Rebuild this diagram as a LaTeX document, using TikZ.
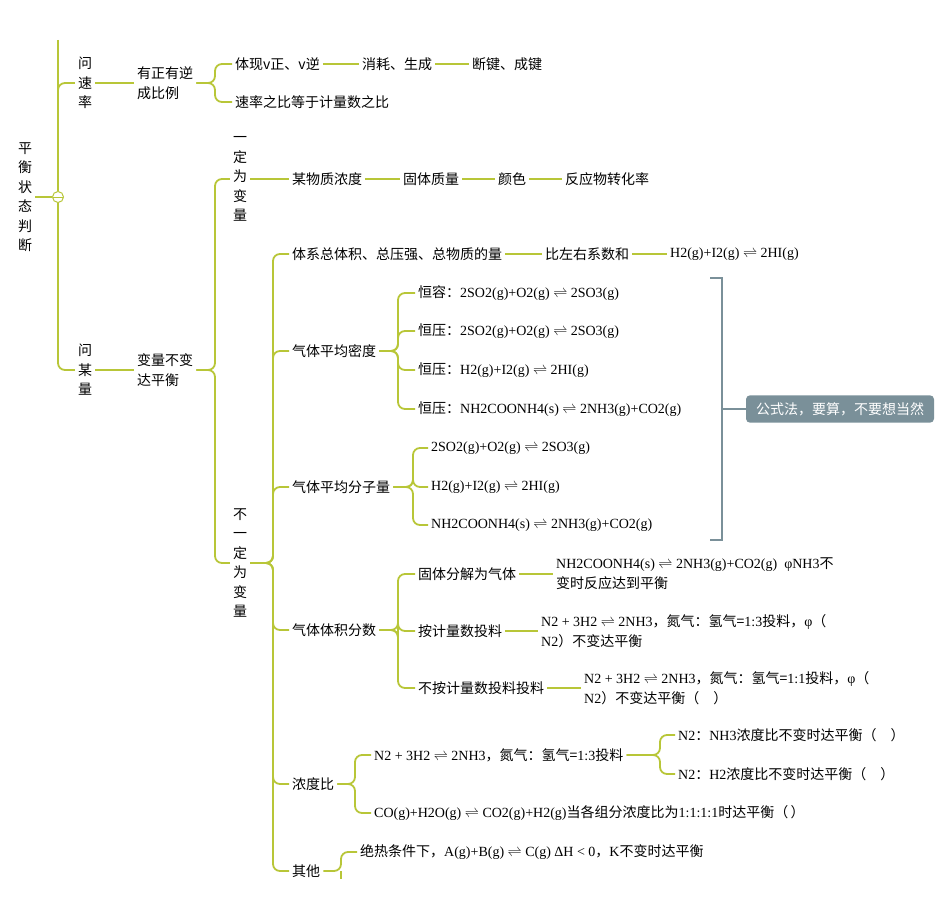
\documentclass[tikz,border=0pt]{standalone}
\usepackage{fontspec}
\setmainfont{Noto Sans CJK SC}
\newfontfamily\fm{Liberation Serif}
\usetikzlibrary{positioning, calc}
\definecolor{branch}{RGB}{184,198,56}
\definecolor{notebg}{RGB}{122,144,153}
\newcommand{\eqarrow}{$\rightleftharpoons$}
\tikzset{
	topic/.style={anchor=west, inner sep=3pt, font=\fontsize{14}{20}\selectfont, align=left},
	vtopic/.style={inner sep=3pt, font=\fontsize{14}{19.5}\selectfont, align=center},
	conn/.style={draw=branch, line width=1.8pt, rounded corners=7pt},
	notebox/.style={fill=notebg, text=white, rounded corners=4pt, inner xsep=10pt, inner ysep=7pt, font=\fontsize{14}{18}\selectfont}
}
\begin{document}
\begin{tikzpicture}[x=1pt, y=-1pt]
	\useasboundingbox (0,0) rectangle (950,920);
	% root and trunk
	\node[vtopic] (root) at (25,197) {平\\衡\\状\\态\\判\\断};
	\node[circle, draw=branch, line width=1pt, fill=white, minimum size=11pt, inner sep=0pt] (knob) at (58,197) {};
	\draw[branch, line width=0.8pt] (53,197) -- (63,197);
	\node[vtopic] (rate) at (85,83) {问\\速\\率};
	\node[vtopic] (amount) at (85,370) {问\\某\\量};
	\draw[conn] (root.east) -- (knob.west);
	\draw[conn] (58,40) -- (knob.north);
	\draw[conn] (knob.north) |- (rate.west);
	\draw[conn] (knob.south) |- (amount.west);

	% rate branch
	\node[topic] (both) at (134,83) {有正有逆\\成比例};
	\node[topic] (vpos) at (232,64) {体现v正、v逆};
	\node[topic] (ratio) at (232,102) {速率之比等于计量数之比};
	\node[topic] (consume) at (359,64) {消耗、生成};
	\node[topic] (bond) at (469,64) {断键、成键};
	\draw[conn] (rate.east) -- (both.west);
	\draw[conn] (both.east) -- (215,83) |- (vpos.west);
	\draw[conn] (both.east) -- (215,83) |- (ratio.west);
	\draw[conn] (vpos.east) -- (consume.west);
	\draw[conn] (consume.east) -- (bond.west);

	% amount branch
	\node[topic] (keep) at (134,370) {变量不变\\达平衡};
	\node[vtopic] (sure) at (240,179) {一\\定\\为\\变\\量};
	\node[vtopic] (unsure) at (240,563) {不\\一\\定\\为\\变\\量};
	\draw[conn] (amount.east) -- (keep.west);
	\draw[conn] (keep.east) -- (215,370) |- (sure.west);
	\draw[conn] (keep.east) -- (215,370) |- (unsure.west);

	% certain variables
	\node[topic] (conc) at (289,179) {某物质浓度};
	\node[topic] (solid) at (400,179) {固体质量};
	\node[topic] (color) at (495,179) {颜色};
	\node[topic] (conv) at (562,179) {反应物转化率};
	\draw[conn] (sure.east) -- (conc.west);
	\draw[conn] (conc.east) -- (solid.west);
	\draw[conn] (solid.east) -- (color.west);
	\draw[conn] (color.east) -- (conv.west);

	% uncertain variables
	\node[topic] (total) at (289,254) {体系总体积、总压强、总物质的量};
	\node[topic] (coef) at (542,254) {比左右系数和};
	\node[topic] (hi) at (667,254) {\fm H2(g)+I2(g) \eqarrow{} 2HI(g)};
	\node[topic] (dens) at (289,351) {气体平均密度};
	\node[topic] (molar) at (289,487) {气体平均分子量};
	\node[topic] (frac) at (289,630) {气体体积分数};
	\node[topic] (cratio) at (289,784) {浓度比};
	\node[topic] (other) at (289,871) {其他};
	\foreach \n in {total, dens, molar, frac, cratio, other}
		\draw[conn] (unsure.east) -- (273,563) |- (\n.west);
	\draw[conn] (total.east) -- (coef.west);
	\draw[conn] (coef.east) -- (hi.west);

	% density
	\node[topic] (d1) at (415,293) {恒容：{\fm 2SO2(g)+O2(g) \eqarrow{} 2SO3(g)}};
	\node[topic] (d2) at (415,331) {恒压：{\fm 2SO2(g)+O2(g) \eqarrow{} 2SO3(g)}};
	\node[topic] (d3) at (415,370) {恒压：{\fm H2(g)+I2(g) \eqarrow{} 2HI(g)}};
	\node[topic] (d4) at (415,409) {恒压：{\fm NH2COONH4(s) \eqarrow{} 2NH3(g)+CO2(g)}};
	\foreach \n in {d1, d2, d3, d4}
		\draw[conn] (dens.east) -- (398,351) |- (\n.west);

	% molar mass
	\node[topic] (m1) at (428,448) {\fm 2SO2(g)+O2(g) \eqarrow{} 2SO3(g)};
	\node[topic] (m2) at (428,487) {\fm H2(g)+I2(g) \eqarrow{} 2HI(g)};
	\node[topic] (m3) at (428,525) {\fm NH2COONH4(s) \eqarrow{} 2NH3(g)+CO2(g)};
	\foreach \n in {m1, m2, m3}
		\draw[conn] (molar.east) -- (413,487) |- (\n.west);

	% formula note
	\coordinate (bt) at (710,278);
	\coordinate (bb) at (710,540);
	\node[notebox] (note) at (840,409) {公式法，要算，不要想当然};
	\draw[notebg, line width=1.8pt] (bt) -- (722,278) -- (722,540) -- (bb);
	\draw[notebg, line width=1.8pt] (722,409) -- (note.west);

	% volume fraction
	\node[topic] (f1) at (415,574) {固体分解为气体};
	\node[topic] (f2) at (415,631) {按计量数投料};
	\node[topic] (f3) at (415,688) {不按计量数投料投料};
	\node[topic] (f1t) at (553,574) {{\fm NH2COONH4(s) \eqarrow{} 2NH3(g)+CO2(g)\ \ φNH3}不\\变时反应达到平衡};
	\node[topic] (f2t) at (538,631) {{\fm N2 + 3H2 \eqarrow{} 2NH3}，氮气：氢气={\fm 1:3}投料，{\fm φ}（\\{\fm N2}）不变达平衡};
	\node[topic] (f3t) at (581,688) {{\fm N2 + 3H2 \eqarrow{} 2NH3}，氮气：氢气={\fm 1:1}投料，{\fm φ}（\\{\fm N2}）不变达平衡（\quad）};
	\foreach \n in {f1, f2, f3}
		\draw[conn] (frac.east) -- (398,630) |- (\n.west);
	\draw[conn] (f1.east) -- (f1t.west);
	\draw[conn] (f2.east) -- (f2t.west);
	\draw[conn] (f3.east) -- (f3t.west);

	% concentration ratio
	\node[topic] (c1) at (371,755) {{\fm N2 + 3H2 \eqarrow{} 2NH3}，氮气：氢气={\fm 1:3}投料};
	\node[topic] (c2) at (371,813) {{\fm CO(g)+H2O(g) \eqarrow{} CO2(g)+H2(g)}当各组分浓度比为{\fm 1:1:1:1}时达平衡（\,）};
	\node[topic] (c11) at (675,735) {{\fm N2}：{\fm NH3}浓度比不变时达平衡（\quad）};
	\node[topic] (c12) at (675,774) {{\fm N2}：{\fm H2}浓度比不变时达平衡（\quad）};
	\foreach \n in {c1, c2}
		\draw[conn] (cratio.east) -- (355,784) |- (\n.west);
	\foreach \n in {c11, c12}
		\draw[conn] (c1.east) -- (660,755) |- (\n.west);

	% other
	\node[topic] (o1) at (357,852) {绝热条件下，{\fm A(g)+B(g) \eqarrow{} C(g) ΔH < 0}，{\fm K}不变时达平衡};
	\draw[conn] (other.east) -- (341,871) |- (o1.west);
	\draw[conn] (341,871) -- (341,879);
\end{tikzpicture}
\end{document}
